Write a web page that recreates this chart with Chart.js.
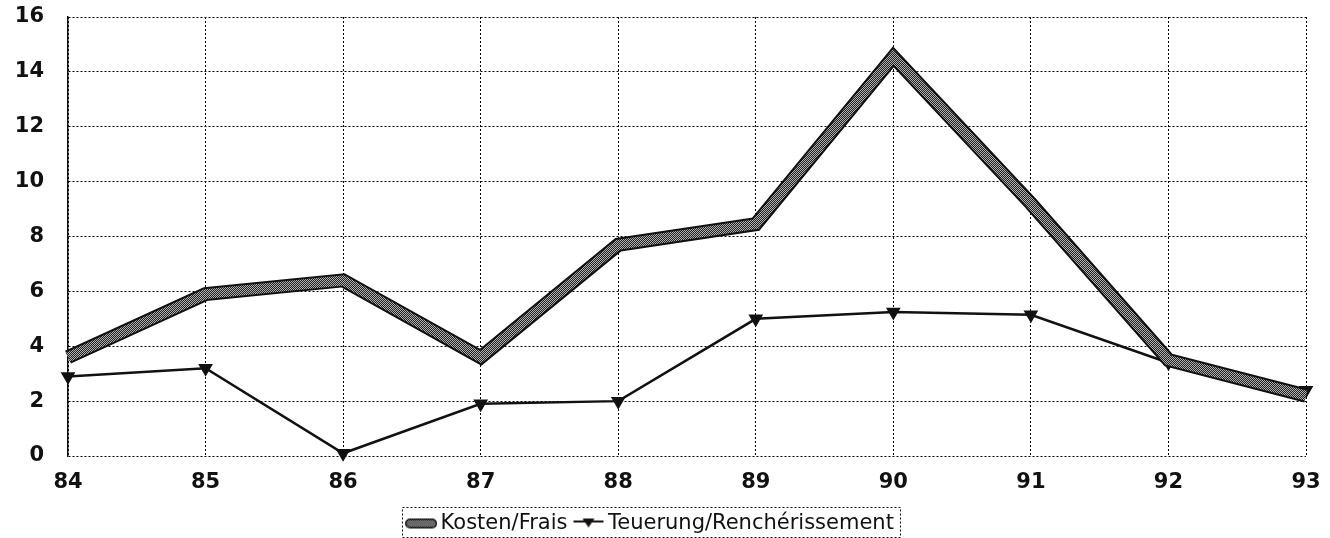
<!DOCTYPE html>
<html>
<head>
<meta charset="utf-8">
<script src="https://cdn.jsdelivr.net/npm/chart.js@4.4.0/dist/chart.umd.min.js"></script>
<style>
html, body { margin: 0; padding: 0; background: #fff; }
#wrap { width: 1330px; height: 538px; position: relative; }
</style>
</head>
<body>
<div id="wrap"><canvas id="chart"></canvas></div>
<script>
// Jahre / années
var years = ['84', '85', '86', '87', '88', '89', '90', '91', '92', '93'];
// Kosten/Frais (%)
var kosten = [3.6, 5.9, 6.4, 3.6, 7.7, 8.45, 14.55, 9.2, 3.5, 2.2];
// Teuerung/Renchérissement (%)
var teuerung = [2.9, 3.2, 0.1, 1.9, 2.0, 5.0, 5.25, 5.15, 3.4, 2.4];
// y-Achse
var yTicks = [0, 2, 4, 6, 8, 10, 12, 14, 16];

var ink = '#111';

// gerasterte Füllung für die dicke Linie
function makePattern() {
	var c = document.createElement('canvas');
	c.width = 2; c.height = 2;
	var g = c.getContext('2d');
	g.fillStyle = '#222';
	g.fillRect(0, 0, 2, 2);
	g.fillStyle = '#b0b0b0';
	g.fillRect(0, 0, 1, 1);
	g.fillRect(1, 1, 1, 1);
	return g.createPattern(c, 'repeat');
}
var kostenFill = makePattern();

// Legenden-Symbole
function kostenSample() {
	var c = document.createElement('canvas');
	c.width = 32; c.height = 12;
	var g = c.getContext('2d');
	g.lineCap = 'round';
	g.strokeStyle = ink; g.lineWidth = 10;
	g.beginPath(); g.moveTo(5, 6); g.lineTo(27, 6); g.stroke();
	g.strokeStyle = kostenFill; g.lineWidth = 7;
	g.beginPath(); g.moveTo(5, 6); g.lineTo(27, 6); g.stroke();
	return c;
}
function teuerungSample() {
	var c = document.createElement('canvas');
	c.width = 32; c.height = 14;
	var g = c.getContext('2d');
	g.strokeStyle = ink; g.lineWidth = 2;
	g.beginPath(); g.moveTo(1, 5); g.lineTo(31, 5); g.stroke();
	g.fillStyle = ink;
	g.beginPath(); g.moveTo(10, 2); g.lineTo(22, 2); g.lineTo(16, 11); g.closePath(); g.fill();
	return c;
}

// schwarzer Rand um die dicke Linie
var outline = {
	id: 'outline',
	beforeDatasetDraw: function(chart, args) {
		if (args.index !== 0) return;
		var pts = args.meta.data;
		var ctx = chart.ctx;
		ctx.save();
		ctx.strokeStyle = ink;
		ctx.lineWidth = 14;
		ctx.lineJoin = 'miter';
		ctx.beginPath();
		pts.forEach(function(p, i) {
			if (i === 0) ctx.moveTo(p.x, p.y); else ctx.lineTo(p.x, p.y);
		});
		ctx.stroke();
		ctx.restore();
	}
};

// Legende etwas tiefer setzen und gepunktet einrahmen
var legendFrame = {
	id: 'legendFrame',
	beforeLayout: function(chart) {
		var lg = chart.legend;
		if (!lg || lg._patched) return;
		var fit = lg.fit;
		lg.fit = function() {
			fit.call(this);
			this.height -= 6;
		};
		lg._patched = true;
	},
	afterDraw: function(chart) {
		var boxes = chart.legend.legendHitBoxes;
		if (!boxes || !boxes.length) return;
		var l = Infinity, r = -Infinity, t = Infinity, b = -Infinity;
		boxes.forEach(function(h) {
			l = Math.min(l, h.left); r = Math.max(r, h.left + h.width);
			t = Math.min(t, h.top); b = Math.max(b, h.top + h.height);
		});
		var mid = (t + b) / 2;
		var ctx = chart.ctx;
		ctx.save();
		ctx.strokeStyle = ink;
		ctx.lineWidth = 1;
		ctx.setLineDash([2, 2]);
		var top = Math.round(mid - 17) + 0.5;
		var bot = Math.min(Math.round(mid + 14), chart.height - 1) + 0.5;
		ctx.strokeRect(Math.round(l - 10) + 0.5, top, Math.round(r - l + 16), bot - top);
		ctx.restore();
	}
};

var ctx = document.getElementById('chart').getContext('2d');
new Chart(ctx, {
	type: 'line',
	data: {
		labels: years,
		datasets: [{
			label: 'Kosten/Frais',
			data: kosten,
			borderColor: kostenFill,
			borderWidth: 10,
			borderJoinStyle: 'miter',
			pointRadius: 0,
			tension: 0,
			clip: false
		}, {
			label: 'Teuerung/Renchérissement',
			data: teuerung,
			borderColor: ink,
			borderWidth: 2.5,
			pointStyle: 'triangle',
			rotation: 180,
			pointRadius: 6,
			pointBackgroundColor: ink,
			pointBorderColor: ink,
			tension: 0,
			clip: false
		}]
	},
	options: {
		responsive: true,
		maintainAspectRatio: false,
		animation: false,
		layout: { autoPadding: false, padding: { left: 0, right: 24, top: 17, bottom: 0 } },
		plugins: {
			tooltip: { enabled: false },
			legend: {
				position: 'bottom',
				labels: {
					usePointStyle: true,
					pointStyleWidth: 18,
					boxHeight: 14,
					padding: 12,
					color: ink,
					font: { family: 'DejaVu Sans', size: 21 },
					generateLabels: function(chart) {
						return chart.data.datasets.map(function(ds, i) {
							return {
								text: ds.label,
								pointStyle: i === 0 ? kostenSample() : teuerungSample(),
								fillStyle: ink,
								strokeStyle: ink,
								lineWidth: 0,
								fontColor: ink,
								datasetIndex: i
							};
						});
					}
				}
			}
		},
		scales: {
			x: {
				offset: false,
				afterFit: function(scale) {
					scale.height = 45;
					scale.paddingLeft = 0;
					scale.paddingRight = 0;
				},
				grid: { color: '#000', lineWidth: 1, drawTicks: false },
				border: { display: false, dash: [2, 2] },
				ticks: {
					color: ink,
					padding: 14,
					font: { family: 'DejaVu Sans', weight: 'bold', size: 21 }
				}
			},
			y: {
				min: 0,
				max: 16,
				afterBuildTicks: function(scale) {
					scale.ticks = yTicks.map(function(v) { return { value: v }; });
				},
				afterFit: function(scale) {
					scale.width = 68;
					scale.paddingTop = 0;
					scale.paddingBottom = 0;
				},
				grid: { color: '#000', lineWidth: 1, drawTicks: false },
				border: { display: true, color: ink, width: 1.5, dash: [2, 2] },
				ticks: {
					color: ink,
					padding: 24,
					font: { family: 'DejaVu Sans', weight: 'bold', size: 21 }
				}
			}
		}
	},
	plugins: [outline, legendFrame]
});
</script>
</body>
</html>
